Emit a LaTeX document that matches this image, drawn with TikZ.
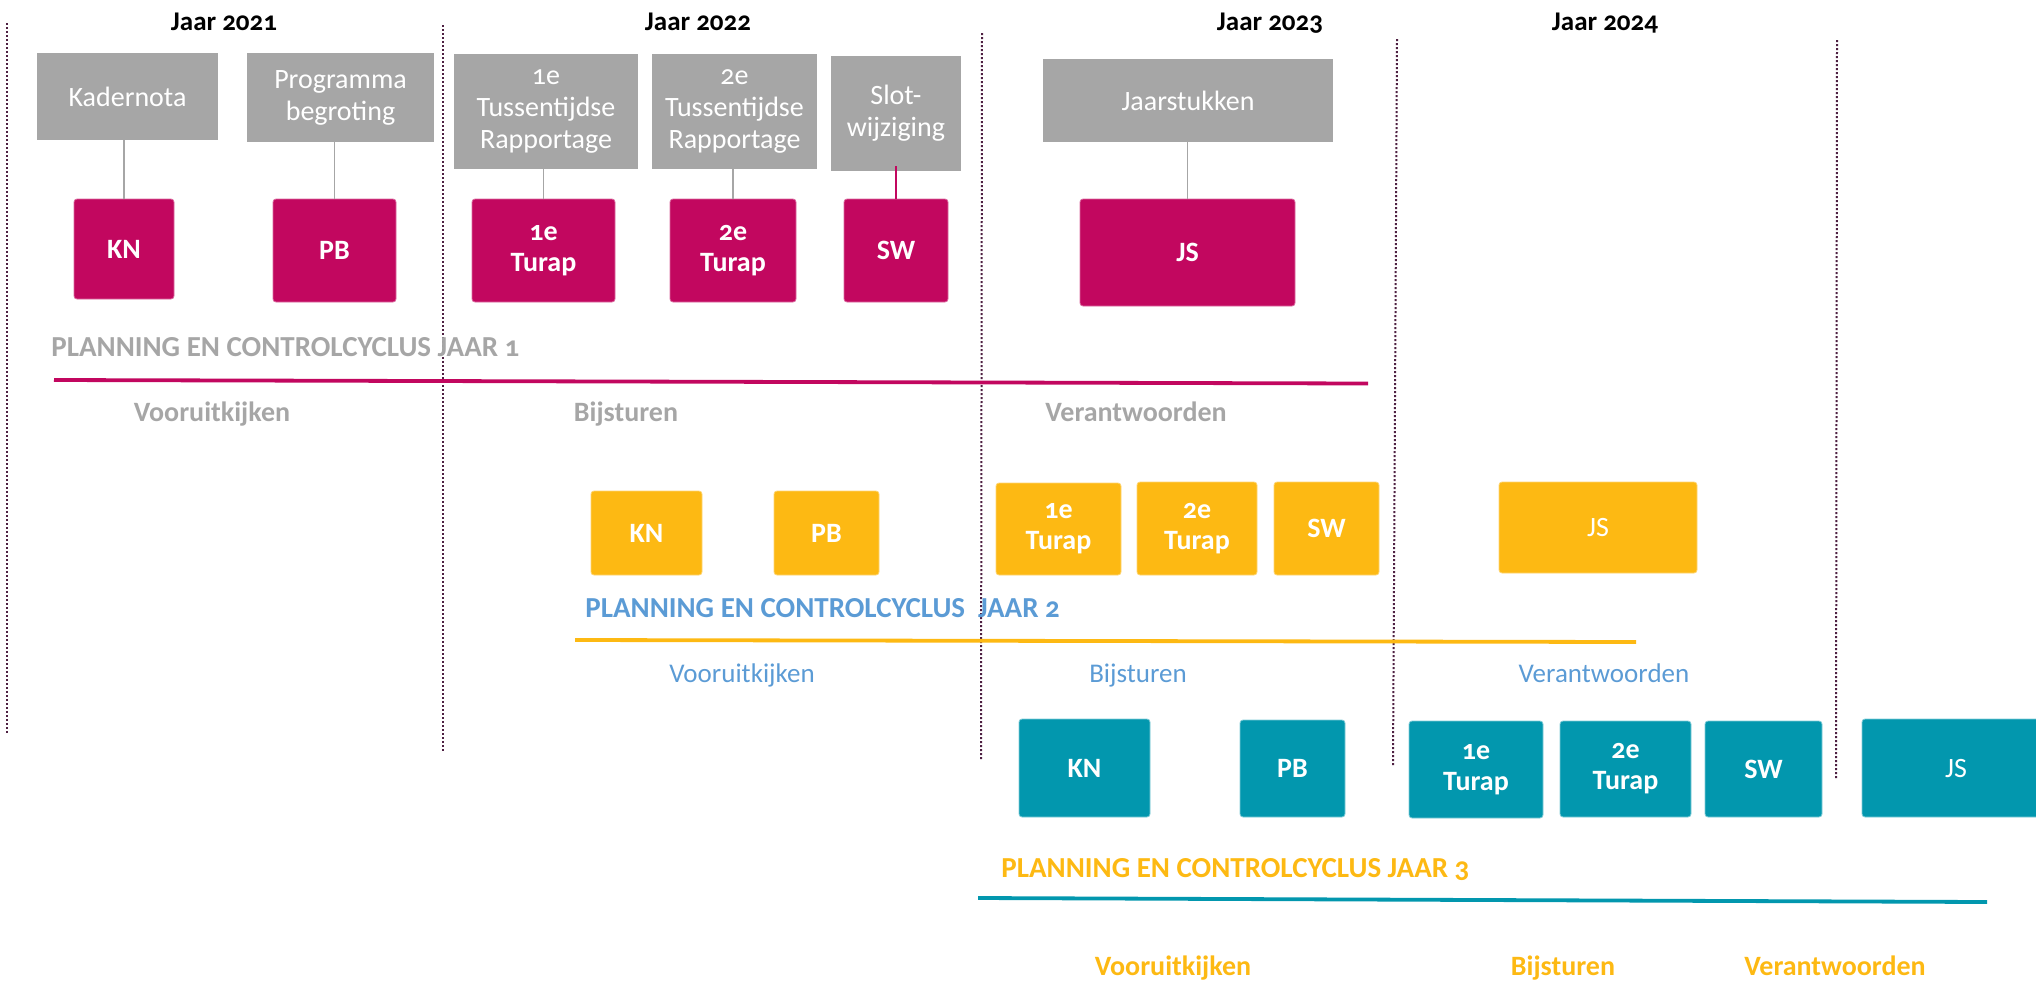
\documentclass[tikz,border=0pt]{standalone}
\usepackage{fontspec}
\setmainfont{Carlito}[Numbers=OldStyle]
\definecolor{cmag}{HTML}{C2075F}
\definecolor{cgray}{HTML}{A6A6A6}
\definecolor{cyel}{HTML}{FDB913}
\definecolor{cteal}{HTML}{0297AE}
\definecolor{cblue}{HTML}{5B9BD5}
\definecolor{cdot}{HTML}{4E2042}
\begin{document}
\begin{tikzpicture}[x=0.5pt,y=-0.5pt,
  wh/.style 2 args={minimum width=#1*0.5pt, minimum height=#2*0.5pt},
  gbox/.style={fill=cgray, text=white, inner sep=0pt, align=center, font=\fontsize{14}{16}\selectfont},
  cbox/.style={rounded corners=1.5pt, text=white, inner sep=0pt, align=center, font=\fontsize{14}{15.5}\selectfont\bfseries},
  mbox/.style={cbox, fill=cmag, draw=cmag!60!white, line width=0.4pt},
  ybox/.style={cbox, fill=cyel, draw=cyel!60!white, line width=0.4pt},
  tbox/.style={cbox, fill=cteal, draw=cteal!50!white, line width=0.4pt},
  thin/.style={font=\fontsize{14}{15.5}\selectfont},
  yearlbl/.style={font=\fontsize{13.5}{16}\selectfont\bfseries, anchor=base, inner sep=0pt},
  title/.style={font=\fontsize{14.5}{16}\selectfont\bfseries, anchor=base west, inner sep=0pt},
  phase/.style={font=\fontsize{14}{16}\selectfont, anchor=base, inner sep=0pt},
  vdots/.style={draw=cdot, line width=1pt, dash pattern=on 1pt off 1pt},
  gconn/.style={draw=cgray, line width=0.75pt},
  mconn/.style={draw=cmag, line width=1.2pt},
  cycle/.style={line width=1.9pt}
]
\useasboundingbox (0,0) rectangle (2036,982);
\clip (0,0) rectangle (2036,982);

% dotted separators
\coordinate (d1t) at (7,23);    \coordinate (d1b) at (7,733);
\coordinate (d2t) at (443,25);  \coordinate (d2b) at (443,751);
\coordinate (d3t) at (982,33);  \coordinate (d3b) at (981,759);
\coordinate (d4t) at (1397,39); \coordinate (d4b) at (1393,765);
\coordinate (d5t) at (1837,40); \coordinate (d5b) at (1836,778);
\draw[vdots] (d1t) -- (d1b);
\draw[vdots] (d2t) -- (d2b);
\draw[vdots] (d3t) -- (d3b);
\draw[vdots] (d4t) -- (d4b);
\draw[vdots] (d5t) -- (d5b);

% years
\node[yearlbl] (y21) at (224,30) {Jaar 2021};
\node[yearlbl] (y22) at (698,30) {Jaar 2022};
\node[yearlbl] (y23) at (1270,30) {Jaar 2023};
\node[yearlbl] (y24) at (1605,30) {Jaar 2024};

% gray document boxes
\node[gbox, wh={181}{87}]  (gK)  at (127.5,96.5) {Kadernota};
\node[gbox, wh={187}{89}]  (gP)  at (340.5,97.5) {Programma\\begroting};
\node[gbox, wh={184}{115}] (gT1) at (546,111.5)  {1e\\Tussentijdse\\Rapportage};
\node[gbox, wh={165}{115}] (gT2) at (734.5,111.5) {2e\\Tussentijdse\\Rapportage};
\node[gbox, wh={130}{115}] (gS)  at (896,113.5)  {Slot-\\wijziging};
\node[gbox, wh={290}{83}]  (gJ)  at (1188,100.5) {Jaarstukken};

% magenta year 1
\node[mbox, wh={100}{100}] (mKN) at (124,249)    {KN};
\node[mbox, wh={123}{103}] (mPB) at (334.5,250.5) {PB};
\node[mbox, wh={143}{103}] (mT1) at (543.5,250.5) {1e\\Turap};
\node[mbox, wh={126}{103}] (mT2) at (733,250.5)  {2e\\Turap};
\node[mbox, wh={104}{103}] (mSW) at (896,250.5)  {SW};
\node[mbox, wh={215}{107}] (mJS) at (1187.5,252.5) {JS};

% connectors
\draw[gconn] (gK.south -| mKN.north) -- (mKN.north);
\draw[gconn] (gP.south -| mPB.north) -- (mPB.north);
\draw[gconn] (gT1.south -| mT1.north) -- (mT1.north);
\draw[gconn] (gT2.south -| mT2.north) -- (mT2.north);
\draw[mconn] ([yshift=2.5pt]gS.south -| mSW.north) -- (mSW.north);
\draw[gconn] (gJ.south -| mJS.north) -- (mJS.north);

% cycle 1
\node[title, text=cgray] (t1) at (51,356) {PLANNING EN CONTROLCYCLUS JAAR 1};
\coordinate (l1a) at (54,380); \coordinate (l1b) at (1368,383.5);
\draw[cycle, cmag] (l1a) -- (l1b);
\node[phase, text=cgray, font=\fontsize{14}{16}\selectfont\bfseries] (p1a) at (212,421) {Vooruitkijken};
\node[phase, text=cgray, font=\fontsize{14}{16}\selectfont\bfseries] (p1b) at (626,421) {Bijsturen};
\node[phase, text=cgray, font=\fontsize{14}{16}\selectfont\bfseries] (p1c) at (1136,421) {Verantwoorden};

% yellow year 2
\node[ybox, wh={111}{84}] (yKN) at (646.5,533) {KN};
\node[ybox, wh={105}{84}] (yPB) at (826.5,533) {PB};
\node[ybox, wh={125}{92}] (yT1) at (1058.5,529) {1e\\Turap};
\node[ybox, wh={120}{93}] (yT2) at (1197,528.5) {2e\\Turap};
\node[ybox, wh={105}{93}] (ySW) at (1326.5,528.5) {SW};
\node[ybox, wh={198}{91}, thin] (yJS) at (1598,527.5) {JS};

\node[title, text=cblue] (t2) at (585,617) {PLANNING EN CONTROLCYCLUS\hspace{6.5pt}JAAR 2};
\coordinate (l2a) at (575,640); \coordinate (l2b) at (1636,642);
\draw[cycle, cyel] (l2a) -- (l2b);
\node[phase, text=cblue, font=\fontsize{13.5}{16}\selectfont] (p2a) at (742,682) {Vooruitkijken};
\node[phase, text=cblue, font=\fontsize{13.5}{16}\selectfont] (p2b) at (1138,682) {Bijsturen};
\node[phase, text=cblue, font=\fontsize{13.5}{16}\selectfont] (p2c) at (1604,682) {Verantwoorden};

% teal year 3
\node[tbox, wh={131}{98}] (tKN) at (1084.5,768) {KN};
\node[tbox, wh={105}{97}] (tPB) at (1292.5,768.5) {PB};
\node[tbox, wh={134}{97}] (tT1) at (1476,769.5) {1e\\Turap};
\node[tbox, wh={131}{96}] (tT2) at (1625.5,769) {2e\\Turap};
\node[tbox, wh={117}{96}] (tSW) at (1763.5,769) {SW};
\node[tbox, wh={188}{98}, thin] (tJS) at (1956,768) {JS};

\node[title, text=cyel] (t3) at (1001,877) {PLANNING EN CONTROLCYCLUS JAAR 3};
\coordinate (l3a) at (978,898); \coordinate (l3b) at (1987,902);
\draw[cycle, cteal] (l3a) -- (l3b);
\node[phase, text=cyel, font=\fontsize{14}{16}\selectfont\bfseries] (p3a) at (1173,975) {Vooruitkijken};
\node[phase, text=cyel, font=\fontsize{14}{16}\selectfont\bfseries] (p3b) at (1563,975) {Bijsturen};
\node[phase, text=cyel, font=\fontsize{14}{16}\selectfont\bfseries] (p3c) at (1835,975) {Verantwoorden};
\end{tikzpicture}
\end{document}
